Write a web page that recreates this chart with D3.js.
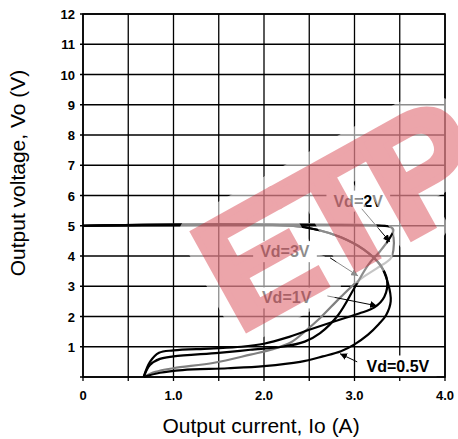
<!DOCTYPE html>
<html>
<head>
<meta charset="utf-8">
<script src="https://cdn.jsdelivr.net/npm/d3@7"></script>
<style>
  body { margin: 0; background: #fff; }
  svg { display: block; font-family: "Liberation Sans", Arial, sans-serif; }
</style>
</head>
<body>
<div id="chart"></div>
<script>
const width = 458, height = 439;
const margin = {top: 14, right: 13, bottom: 62, left: 83};

// Output current Io (A), output voltage Vo (V)
const curveHalf = [[0,5],[2.3,5],[2.6,4.86],[2.85,4.62],[3.1,4.22],[3.28,3.72],[3.37,3.1],[3.4,2.5],[3.35,2.05],[3.27,1.75],[3.15,1.4],[3.0,1.08],[2.85,0.85],[2.65,0.68],[2.4,0.5],[2.0,0.36],[1.6,0.29],[1.1,0.23],[0.85,0.14],[0.67,0]];
const curveOne = [[0,5],[2.3,5],[2.6,4.86],[2.85,4.62],[3.1,4.22],[3.28,3.72],[3.36,3.2],[3.33,2.65],[3.22,2.3],[3.05,2.1],[2.8,1.86],[2.5,1.56],[2.25,1.3],[2.0,1.1],[1.75,1.0],[1.4,0.94],[1.0,0.88],[0.84,0.8],[0.74,0.5],[0.67,0]];
const curveTwo = [[0,5],[3.3,5],[3.4,4.96],[3.43,4.86],[3.38,4.55],[3.28,4.15],[3.15,3.7],[3.0,2.95],[2.82,2.05],[2.62,1.45],[2.45,1.17],[2.2,1.0],[1.85,0.9],[1.5,0.8],[1.0,0.68],[0.85,0.6],[0.74,0.4],[0.67,0]];
const curveThree = [[0,5],[3.32,5],[3.41,4.94],[3.43,4.7],[3.43,4.2],[3.4,3.92],[3.25,3.6],[3.05,3.2],[2.85,2.65],[2.62,1.95],[2.45,1.5],[2.3,1.15],[2.1,0.92],[1.85,0.74],[1.45,0.47],[1.0,0.29],[0.8,0.17],[0.67,0]];

const seriesNames = ["Vd=3V", "Vd=0.5V", "Vd=1V", "Vd=2V"];
const seriesData = [curveThree, curveHalf, curveOne, curveTwo];
const seriesColors = ["#808080", "#000", "#000", "#000"];

// label centres and arrow [from, to], in data units
const labelAt = [[2.23,4.16],[3.48,0.38],[2.25,2.63],[3.04,5.83]];
const arrowFrom = [[2.73,3.94],[3.03,0.5],[2.7,2.68],[3.08,5.56]];
const arrowTo = [[3.04,3.34],[2.84,0.77],[3.25,2.35],[3.39,4.47]];

const xGrid = [0,0.5,1,1.5,2,2.5,3,3.5,4];
const xLabels = [0,1,2,3,4];
const yGrid = [0,1,2,3,4,5,6,7,8,9,10,11,12];
const yLabels = [1,2,3,4,5,6,7,8,9,10,11,12];

const svg = d3.select("#chart").append("svg")
  .attr("width", width)
  .attr("height", height);

svg.append("rect").attr("width", width).attr("height", height).attr("fill", "#fff");

const x = d3.scaleLinear().domain([0, 4]).range([margin.left, width - margin.right]);
const y = d3.scaleLinear().domain([0, 12]).range([height - margin.bottom, margin.top]);

// grid
svg.append("g").selectAll("line").data(xGrid).join("line")
  .attr("x1", d => x(d)).attr("x2", d => x(d))
  .attr("y1", y(0) + 4).attr("y2", y(12))
  .attr("stroke", "#000").attr("stroke-width", 1.3);
svg.append("g").selectAll("line").data(yGrid).join("line")
  .attr("x1", x(0) - 3).attr("x2", x(4))
  .attr("y1", d => y(d)).attr("y2", d => y(d))
  .attr("stroke", "#000").attr("stroke-width", 1.3);

// tick labels
svg.append("g").selectAll("text").data(yLabels).join("text")
  .attr("x", x(0) - 8).attr("y", d => y(d) + 5)
  .attr("text-anchor", "end")
  .attr("font-size", 13).attr("font-weight", "bold")
  .text(d => d);
svg.append("g").selectAll("text").data(xLabels).join("text")
  .attr("x", d => x(d)).attr("y", y(0) + 23)
  .attr("text-anchor", "middle")
  .attr("font-size", 13).attr("font-weight", "bold")
  .text(d => d === 0 ? "0" : d.toFixed(1));

// axis titles
svg.append("text")
  .attr("x", x(2) - 3).attr("y", 433)
  .attr("text-anchor", "middle")
  .attr("font-size", 21)
  .text("Output current, Io (A)");
svg.append("text")
  .attr("transform", `translate(25, 173) rotate(-90)`)
  .attr("text-anchor", "middle")
  .attr("font-size", 21)
  .text("Output voltage, Vo (V)");

// curves (gray first so the black ones sit on top)
const line = d3.line()
  .x(d => x(d[0])).y(d => y(d[1]))
  .curve(d3.curveCatmullRom.alpha(0.5));

svg.append("g").selectAll("path").data(seriesData).join("path")
  .attr("d", line)
  .attr("fill", "none")
  .attr("stroke", (d, i) => seriesColors[i])
  .attr("stroke-width", 2.2)
  .attr("stroke-linejoin", "round");

// labels with white boxes, and arrows
const defs = svg.append("defs");
defs.append("marker")
  .attr("id", "head")
  .attr("viewBox", "0 0 10 10")
  .attr("refX", 10).attr("refY", 5)
  .attr("markerWidth", 7).attr("markerHeight", 7)
  .attr("markerUnits", "userSpaceOnUse")
  .attr("orient", "auto")
  .append("path").attr("d", "M0,0L10,5L0,10z").attr("fill", "#000");

const labels = svg.append("g");
seriesNames.forEach((name, i) => {
  const g = labels.append("g");
  const t = g.append("text")
    .attr("x", x(labelAt[i][0])).attr("y", y(labelAt[i][1]) + 6)
    .attr("text-anchor", "middle")
    .attr("font-size", 16).attr("font-weight", "bold")
    .text(name);
  const b = t.node().getBBox();
  g.insert("rect", "text")
    .attr("x", b.x - 7).attr("y", b.y - 2)
    .attr("width", b.width + 14).attr("height", b.height + 4)
    .attr("fill", "#fff");
  g.append("line")
    .attr("x1", x(arrowFrom[i][0])).attr("y1", y(arrowFrom[i][1]))
    .attr("x2", x(arrowTo[i][0])).attr("y2", y(arrowTo[i][1]))
    .attr("stroke", "#000").attr("stroke-width", 1)
    .attr("marker-end", "url(#head)");
});

// frame
svg.append("rect")
  .attr("x", x(0)).attr("y", y(12))
  .attr("width", x(4) - x(0)).attr("height", y(0) - y(12))
  .attr("fill", "none").attr("stroke", "#000").attr("stroke-width", 1.6);

// watermark
const wm = svg.append("g").attr("transform", "translate(238,334) rotate(-29)");
wm.append("text")
  .attr("font-size", 160).attr("font-weight", "bold").attr("letter-spacing", -8)
  .attr("fill", "none").attr("stroke", "#fff").attr("stroke-width", 30)
  .attr("stroke-linejoin", "round").attr("opacity", 0.55)
  .text("ETP");
wm.append("g").attr("opacity", 0.4)
  .append("text")
  .attr("font-size", 160).attr("font-weight", "bold").attr("letter-spacing", -8)
  .attr("fill", "#d0202e").attr("stroke", "#d0202e").attr("stroke-width", 7)
  .attr("stroke-linejoin", "miter")
  .text("ETP");
</script>
</body>
</html>
